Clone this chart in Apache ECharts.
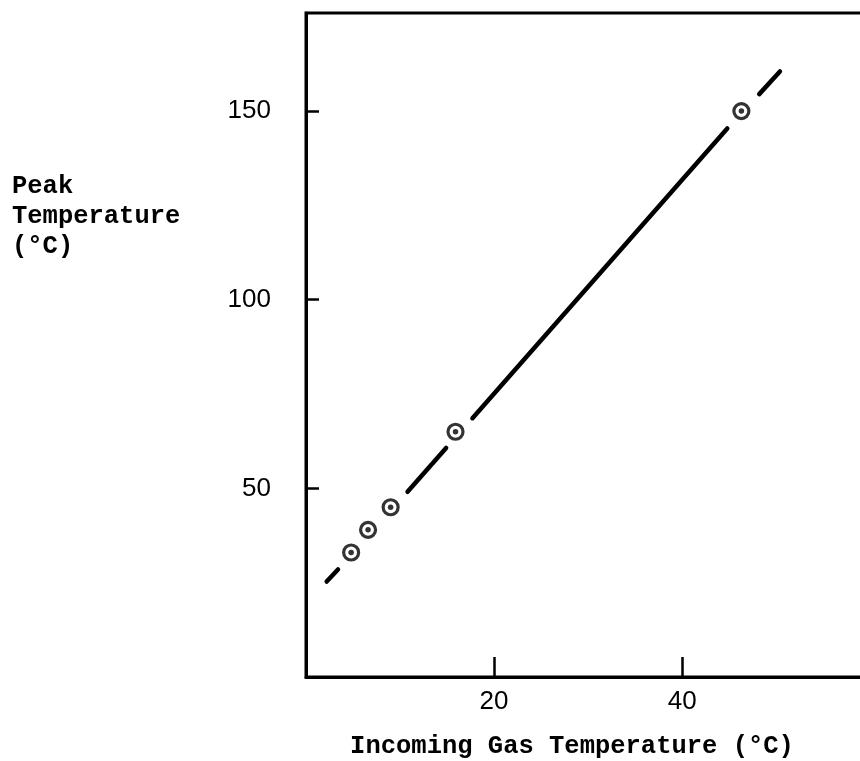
<!DOCTYPE html>
<html><head><meta charset="utf-8">
<script src="https://cdn.jsdelivr.net/npm/echarts/dist/echarts.min.js"></script>
<style>html,body{margin:0;padding:0;overflow:hidden;background:#fff}#c{width:900px;height:761px}</style>
</head><body><div id="c"></div><script>
const gasTemp = [4.8, 6.6, 9.0, 15.9, 46.3];
const peakTemp = [33, 39, 45, 65, 150];
const fitLineX = [2.2, 3.4, 10.8, 14.9, 17.7, 44.8, 48.2, 50.4];
const fitLineY = [25.3, 28.5, 49.1, 60.7, 68.6, 145.4, 154.5, 160.5];
const xTicks = [20, 40];
const yTicks = [50, 100, 150];
const xTitle = 'Incoming Gas Temperature (°C)';
const yTitle = 'Peak\nTemperature\n(°C)';

const chart = echarts.init(document.getElementById('c'));
const pts = gasTemp.map((x, i) => [x, peakTemp[i]]);
const segSeries = [];
for (let i = 0; i + 1 < fitLineX.length; i += 2) {
  segSeries.push({
    type: 'line', silent: true, symbol: 'none',
    data: [[fitLineX[i], fitLineY[i]], [fitLineX[i + 1], fitLineY[i + 1]]],
    lineStyle: { color: '#000', width: 4.5, cap: 'round' }, z: 2
  });
}
chart.setOption({
  animation: false,
  grid: { left: 306, top: 13, width: 583, bottom: 84, show: true, borderColor: '#000', borderWidth: 3, backgroundColor: 'transparent' },
  xAxis: {
    type: 'value', min: 0, max: 62, interval: 20,
    axisLine: { lineStyle: { color: '#000', width: 3 } },
    axisTick: { inside: true, length: 20, customValues: xTicks, lineStyle: { color: '#000', width: 2.5 } },
    axisLabel: { customValues: xTicks, margin: 12, color: '#000', fontFamily: 'Liberation Sans', fontSize: 26 },
    splitLine: { show: false }
  },
  yAxis: {
    type: 'value', min: 0, max: 176, interval: 50,
    axisLine: { lineStyle: { color: '#000', width: 3 } },
    axisTick: { inside: true, length: 13, customValues: yTicks, lineStyle: { color: '#000', width: 2.5 } },
    axisLabel: { customValues: yTicks, margin: 35, color: '#000', fontFamily: 'Liberation Sans', fontSize: 26, padding: [8, 0, 0, 0] },
    splitLine: { show: false }
  },
  graphic: [{
    type: 'text', left: 12, top: 172,
    style: { text: yTitle, fill: '#000', font: 'bold 25.5px "Liberation Mono"', lineHeight: 30 }
  }, {
    type: 'text', x: 572, y: 747,
    style: { text: xTitle, fill: '#000', font: 'bold 25.5px "Liberation Mono"', align: 'center', verticalAlign: 'middle' }
  }],
  series: segSeries.concat([
    { type: 'scatter', data: pts, symbol: 'circle', symbolSize: 15,
      itemStyle: { color: '#fff', borderColor: '#000', borderWidth: 3.2 }, z: 3 },
    { type: 'scatter', data: pts, symbol: 'circle', symbolSize: 5.5,
      itemStyle: { color: '#000' }, z: 4 }
  ])
});
</script></body></html>
